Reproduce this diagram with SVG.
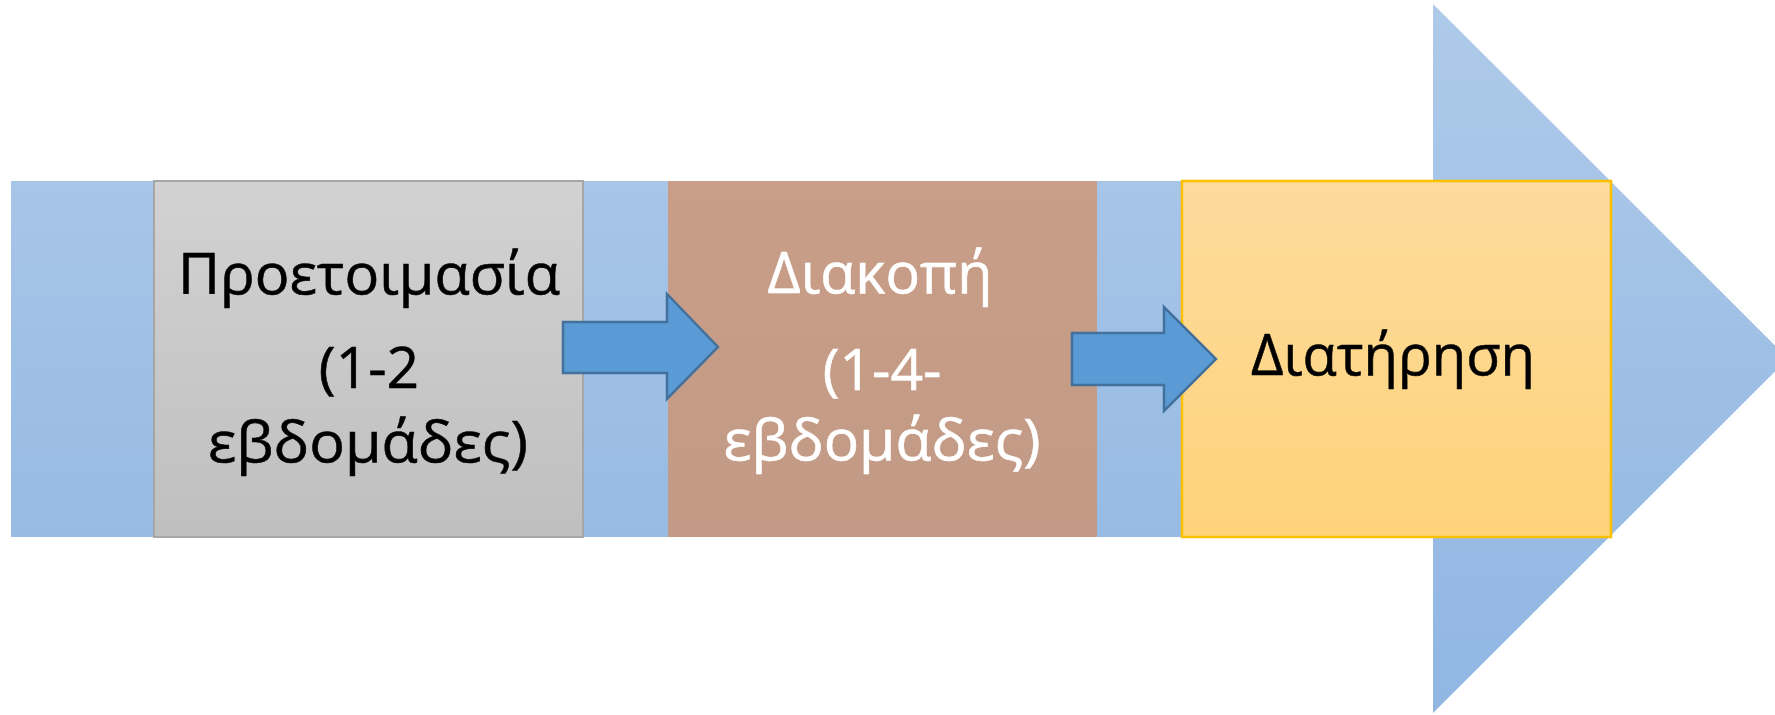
<svg xmlns="http://www.w3.org/2000/svg" width="1775" height="715" viewBox="0 0 1775 715">
<defs>
<linearGradient id="gBig" gradientUnits="userSpaceOnUse" x1="0" y1="4" x2="0" y2="713">
<stop offset="0" stop-color="#aecae9"/>
<stop offset="1" stop-color="#90b6e2"/>
</linearGradient>
<linearGradient id="gGray" x1="0" y1="0" x2="0" y2="1">
<stop offset="0" stop-color="#d2d2d2"/>
<stop offset="1" stop-color="#bfbfbf"/>
</linearGradient>
<linearGradient id="gBrown" x1="0" y1="0" x2="0" y2="1">
<stop offset="0" stop-color="#c99e88"/>
<stop offset="1" stop-color="#c29a85"/>
</linearGradient>
<linearGradient id="gYellow" x1="0" y1="0" x2="0" y2="1">
<stop offset="0" stop-color="#fddb9d"/>
<stop offset="1" stop-color="#fed37a"/>
</linearGradient>
</defs>
<style>
.t{font-family:"Open Sans","Noto Sans",sans-serif;font-size:57px;text-anchor:middle;stroke-width:0.6}
.dark{fill:#000;stroke:#000}
.light{fill:#fff;stroke:#fff}
.conn{fill:#5b9bd5;stroke:#41719c;stroke-width:2.5}
</style>
<g id="bigArrow">
<polygon points="11,181 1433,181 1433,4 1788,358.5 1433,713 1433,537 11,537" fill="url(#gBig)"/>
</g>
<g id="node1">
<rect x="154" y="181" width="429" height="356" fill="url(#gGray)" stroke="#a6a6a6" stroke-width="2"/>
<text class="t dark" x="369" y="294" textLength="382" lengthAdjust="spacingAndGlyphs">Προετοιμασία</text>
<text class="t dark" x="369" y="388">(1-2</text>
<text class="t dark" x="368" y="462" textLength="320" lengthAdjust="spacingAndGlyphs">εβδομάδες)</text>
</g>
<g id="node2">
<rect x="668" y="181" width="429" height="356" fill="url(#gBrown)"/>
<text class="t light" x="880" y="293" textLength="225" lengthAdjust="spacingAndGlyphs">Διακοπή</text>
<text class="t light" x="882" y="390">(1-4-</text>
<text class="t light" x="882" y="460" textLength="317" lengthAdjust="spacingAndGlyphs">εβδομάδες)</text>
</g>
<g id="node3">
<rect x="1182" y="181" width="429" height="356" fill="url(#gYellow)" stroke="#ffc000" stroke-width="2.5"/>
<text class="t dark" x="1393" y="375" textLength="284" lengthAdjust="spacingAndGlyphs">Διατήρηση</text>
</g>
<g id="connectors">
<polygon class="conn" points="563,322 667,322 667,294 718,347 667,399 667,373 563,373"/>
<polygon class="conn" points="1072,333 1164,333 1164,307 1216,359 1164,411 1164,385 1072,385"/>
</g>
</svg>
